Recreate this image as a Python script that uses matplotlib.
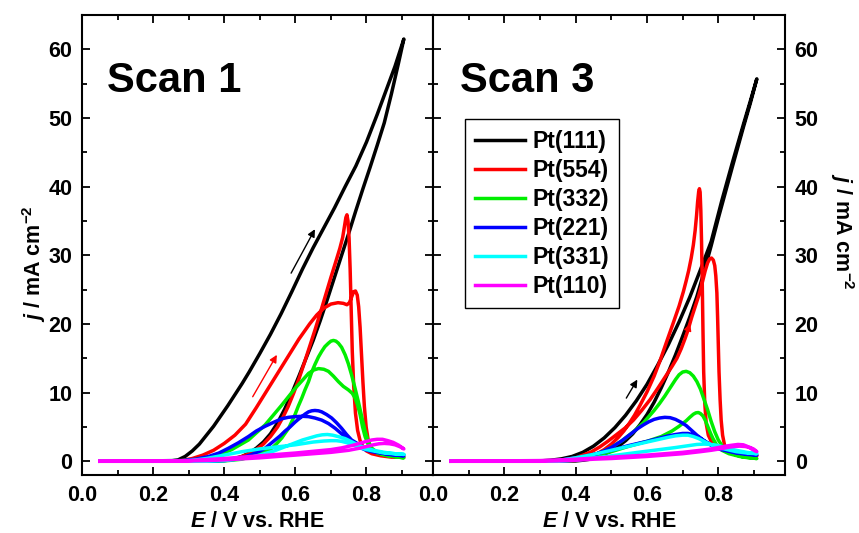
import matplotlib
matplotlib.use("Agg")
import matplotlib.pyplot as plt
from matplotlib.ticker import MultipleLocator, FixedLocator

plt.rcParams['font.family'] = ['Liberation Sans', 'DejaVu Sans']
plt.rcParams['font.weight'] = 'bold'
plt.rcParams['mathtext.fontset'] = 'custom'
plt.rcParams['mathtext.rm'] = 'Liberation Sans:bold'
plt.rcParams['mathtext.bf'] = 'Liberation Sans:bold'
plt.rcParams['mathtext.it'] = 'Liberation Sans:bold:italic'

labels = ['Pt(111)', 'Pt(554)', 'Pt(332)', 'Pt(221)', 'Pt(331)', 'Pt(110)']
colors = ['#000000', '#ff0000', '#00ee00', '#0000ff', '#00ffff', '#ff00ff']

# ---- Scan 1 : each list runs forward sweep then backward sweep ----
s1_111_E = [0.05, 0.20, 0.25, 0.27, 0.29, 0.31, 0.33, 0.35, 0.37, 0.39, 0.41, 0.43, 0.45, 0.47, 0.50, 0.53,
            0.56, 0.59, 0.62, 0.65, 0.68, 0.71, 0.74, 0.77, 0.80, 0.83, 0.86, 0.88, 0.905,
            0.89, 0.87, 0.85, 0.83, 0.81, 0.79, 0.77, 0.75, 0.73, 0.71, 0.69, 0.67, 0.65, 0.63, 0.61,
            0.59, 0.57, 0.55, 0.53, 0.51, 0.49, 0.47, 0.45, 0.42, 0.38, 0.32, 0.05]
s1_111_j = [0, 0, 0.05, 0.2, 0.7, 1.5, 2.5, 3.8, 5.1, 6.6, 8.1, 9.7, 11.3, 13.0, 15.7, 18.5,
            21.5, 24.7, 28.0, 31.1, 34.0, 36.9, 40.0, 43.0, 46.5, 50.5, 54.7, 57.5, 61.5,
            58.0, 53.5, 49.3, 46.0, 42.8, 39.7, 36.5, 33.2, 30.0, 26.8, 23.6, 20.5, 17.6, 15.0, 12.4,
            9.9, 7.6, 5.6, 4.0, 2.8, 1.9, 1.2, 0.7, 0.3, 0.1, 0, 0]

s1_554_E = [0.05, 0.25, 0.28, 0.31, 0.34, 0.37, 0.40, 0.43, 0.46, 0.49, 0.52, 0.55, 0.58, 0.61, 0.64,
            0.66, 0.68, 0.70, 0.72, 0.735, 0.745, 0.752, 0.758, 0.764, 0.769, 0.774, 0.778, 0.782,
            0.786, 0.790, 0.794, 0.799, 0.805, 0.812, 0.825, 0.85, 0.88, 0.905,
            0.87, 0.84, 0.815, 0.80, 0.79, 0.782, 0.775, 0.769, 0.764, 0.760, 0.757, 0.754, 0.751,
            0.748, 0.745, 0.742, 0.738, 0.733, 0.725, 0.715, 0.70, 0.685, 0.67, 0.655, 0.64, 0.625,
            0.61, 0.595, 0.58, 0.565, 0.55, 0.53, 0.51, 0.49, 0.47, 0.44, 0.40, 0.35, 0.30, 0.05]
s1_554_j = [0, 0, 0.1, 0.4, 0.9, 1.6, 2.6, 3.8, 5.4, 7.8, 10.3, 12.8, 15.3, 17.8, 20.0,
            21.3, 22.3, 22.9, 23.1, 23.0, 22.8, 23.1, 23.9, 24.7, 24.8, 24.2, 22.5, 19.5,
            15.5, 11.5, 8.0, 5.0, 3.0, 1.9, 1.2, 0.9, 0.7, 0.6,
            0.6, 0.8, 1.1, 1.5, 2.1, 3.0, 4.5, 7.0, 11.0, 16.0, 22.0, 28.0, 32.5,
            35.0, 35.9, 35.5, 34.2, 32.6, 31.0, 29.3, 26.8, 24.2, 21.6, 19.1, 16.7, 14.3,
            12.0, 9.9, 8.0, 6.4, 5.0, 3.6, 2.5, 1.7, 1.1, 0.5, 0.2, 0.05, 0, 0]

s1_332_E = [0.05, 0.28, 0.33, 0.375, 0.421, 0.468, 0.515, 0.562, 0.599, 0.62, 0.637, 0.652, 0.665, 0.68,
            0.693, 0.707, 0.721, 0.735, 0.749, 0.76, 0.768, 0.776, 0.782, 0.789, 0.796, 0.805, 0.815,
            0.83, 0.85, 0.905,
            0.86, 0.83, 0.815, 0.805, 0.796, 0.787, 0.777, 0.767, 0.758, 0.749, 0.740, 0.730, 0.721,
            0.714, 0.707, 0.700, 0.693, 0.683, 0.674, 0.665, 0.655, 0.646, 0.637, 0.627, 0.618, 0.608,
            0.599, 0.59, 0.581, 0.57, 0.562, 0.548, 0.534, 0.515, 0.496, 0.47, 0.449, 0.40, 0.38, 0.05]
s1_332_j = [0, 0.1, 0.3, 0.7, 1.7, 3.1, 5.3, 8.2, 10.6, 11.8, 12.8, 13.3, 13.5, 13.4,
            13.1, 12.4, 11.6, 10.9, 10.4, 9.9, 9.2, 8.0, 6.8, 5.0, 3.6, 2.4, 1.7,
            1.2, 0.9, 0.5,
            0.8, 1.3, 1.9, 2.9, 4.4, 6.4, 8.7, 10.8, 12.6, 14.2, 15.5, 16.6, 17.2,
            17.5, 17.6, 17.5, 17.2, 16.7, 16.0, 15.2, 14.1, 13.0, 11.6, 10.4, 9.2, 8.0,
            6.8, 5.8, 4.8, 4.0, 3.4, 2.6, 1.9, 1.4, 1.0, 0.6, 0.3, 0.05, 0, 0]

s1_221_E = [0.05, 0.28, 0.32, 0.356, 0.385, 0.412, 0.44, 0.468, 0.49, 0.515, 0.54, 0.562, 0.58, 0.599,
            0.62, 0.637, 0.655, 0.674, 0.693, 0.712, 0.73, 0.749, 0.763, 0.777, 0.795, 0.815, 0.84,
            0.861, 0.905,
            0.87, 0.843, 0.82, 0.796, 0.777, 0.758, 0.744, 0.730, 0.716, 0.702, 0.688, 0.674, 0.665,
            0.655, 0.646, 0.637, 0.628, 0.618, 0.608, 0.599, 0.585, 0.571, 0.557, 0.543, 0.529, 0.515,
            0.497, 0.478, 0.455, 0.431, 0.40, 0.36, 0.05]
s1_221_j = [0, 0.1, 0.3, 0.7, 1.2, 1.9, 2.7, 3.6, 4.4, 5.1, 5.7, 6.2, 6.4, 6.5,
            6.55, 6.5, 6.3, 6.0, 5.5, 4.8, 4.0, 3.1, 2.6, 2.1, 1.7, 1.4, 1.2,
            1.0, 0.8,
            1.0, 1.2, 1.5, 1.9, 2.5, 3.1, 3.9, 4.8, 5.6, 6.3, 6.8, 7.2, 7.35,
            7.4, 7.35, 7.2, 6.9, 6.5, 6.1, 5.7, 5.0, 4.4, 3.7, 3.1, 2.5, 1.9,
            1.4, 1.0, 0.6, 0.3, 0.1, 0, 0]

s1_331_E = [0.05, 0.28, 0.32, 0.35, 0.40, 0.45, 0.50, 0.55, 0.60, 0.65, 0.68, 0.70, 0.715, 0.73, 0.745,
            0.76, 0.78, 0.80, 0.83, 0.85, 0.88, 0.905,
            0.88, 0.85, 0.82, 0.80, 0.78, 0.76, 0.74, 0.72, 0.705, 0.69, 0.675, 0.66, 0.64, 0.62,
            0.60, 0.58, 0.56, 0.54, 0.52, 0.50, 0.475, 0.45, 0.42, 0.40, 0.35, 0.05]
s1_331_j = [0, 0, 0.2, 0.4, 0.9, 1.4, 1.8, 2.1, 2.4, 2.8, 2.95, 3.0, 3.0, 2.9, 2.7,
            2.4, 2.0, 1.7, 1.4, 1.2, 1.1, 1.0,
            1.1, 1.3, 1.6, 1.9, 2.3, 2.8, 3.3, 3.6, 3.8, 3.9, 3.85, 3.7, 3.4, 3.1,
            2.7, 2.3, 1.9, 1.5, 1.2, 0.9, 0.6, 0.4, 0.2, 0.1, 0, 0]

s1_110_E = [0.05, 0.25, 0.30, 0.35, 0.40, 0.45, 0.50, 0.55, 0.60, 0.65, 0.70, 0.73, 0.76, 0.78, 0.80,
            0.815, 0.83, 0.845, 0.86, 0.875, 0.89, 0.905,
            0.895, 0.88, 0.865, 0.85, 0.835, 0.82, 0.80, 0.78, 0.75, 0.70, 0.65, 0.60, 0.55, 0.50,
            0.45, 0.40, 0.35, 0.30, 0.05]
s1_110_j = [0, 0, 0.1, 0.25, 0.4, 0.6, 0.8, 1.0, 1.2, 1.45, 1.7, 1.95, 2.3, 2.6, 2.9,
            3.1, 3.2, 3.2, 3.0, 2.75, 2.35, 1.8,
            2.1, 2.4, 2.55, 2.6, 2.55, 2.4, 2.15, 1.9, 1.6, 1.3, 1.1, 0.9, 0.7, 0.5,
            0.35, 0.2, 0.1, 0.05, 0]

# ---- Scan 3 ----
s3_111_E = [0.05, 0.25, 0.30, 0.33, 0.36, 0.39, 0.42, 0.45, 0.48, 0.51, 0.54, 0.57, 0.60, 0.63, 0.66,
            0.69, 0.72, 0.75, 0.78, 0.81, 0.84, 0.87, 0.89, 0.908,
            0.89, 0.87, 0.84, 0.82, 0.80, 0.78, 0.76, 0.74, 0.72, 0.70, 0.68, 0.66, 0.64, 0.62, 0.60,
            0.58, 0.56, 0.54, 0.52, 0.50, 0.48, 0.46, 0.44, 0.42, 0.40, 0.30, 0.05]
s3_111_j = [0, 0, 0.05, 0.15, 0.35, 0.7, 1.3, 2.2, 3.4, 4.9, 6.7, 8.8, 11.2, 14.0, 17.0,
            20.3, 23.9, 27.9, 32.0, 38.0, 43.6, 49.0, 52.5, 55.7,
            52.2, 48.6, 43.0, 39.2, 35.4, 31.4, 27.6, 24.0, 21.0, 18.2, 15.5, 13.0, 10.7, 8.6, 6.8,
            5.3, 4.0, 3.0, 2.2, 1.5, 1.0, 0.6, 0.3, 0.15, 0.05, 0, 0]

s3_554_E = [0.05, 0.30, 0.34, 0.375, 0.40, 0.421, 0.445, 0.468, 0.49, 0.515, 0.54, 0.562, 0.585, 0.609,
            0.63, 0.655, 0.67, 0.684, 0.696, 0.707, 0.715, 0.725, 0.735, 0.745, 0.755, 0.763, 0.770,
            0.776, 0.781, 0.786, 0.790, 0.793, 0.796, 0.798, 0.800, 0.802, 0.805, 0.808, 0.812, 0.818,
            0.826, 0.84, 0.87, 0.908,
            0.88, 0.85, 0.83, 0.81, 0.795, 0.782, 0.772, 0.766, 0.762, 0.759, 0.757, 0.755, 0.753,
            0.751, 0.749, 0.747, 0.745, 0.742, 0.739, 0.735, 0.73, 0.724, 0.717, 0.71, 0.702, 0.69,
            0.674, 0.655, 0.637, 0.62, 0.60, 0.581, 0.565, 0.55, 0.535, 0.52, 0.50, 0.48, 0.46, 0.44,
            0.42, 0.40, 0.36, 0.30, 0.05]
s3_554_j = [0, 0, 0.05, 0.2, 0.5, 0.9, 1.4, 2.1, 2.9, 3.9, 4.9, 6.0, 7.4, 9.0,
            10.6, 12.6, 13.8, 15.0, 16.4, 17.9, 19.1, 20.9, 22.5, 24.1, 26.0, 27.7, 28.9,
            29.5, 29.6, 29.3, 28.5, 27.0, 24.5, 21.0, 17.0, 13.0, 9.0, 6.0, 3.8, 2.2,
            1.4, 1.1, 0.9, 0.8,
            0.85, 1.0, 1.3, 1.7, 2.1, 2.7, 3.8, 5.5, 8.5, 13.0, 19.0, 26.0, 32.0,
            36.5, 39.2, 39.7, 39.3, 37.8, 35.8, 33.6, 31.5, 29.6, 27.8, 26.3, 24.7, 22.6,
            20.2, 17.4, 14.7, 12.4, 10.1, 8.2, 6.7, 5.5, 4.4, 3.5, 2.5, 1.7, 1.1, 0.7,
            0.35, 0.15, 0.05, 0, 0]

s3_332_E = [0.05, 0.32, 0.35, 0.40, 0.45, 0.50, 0.55, 0.60, 0.64, 0.67, 0.69, 0.71, 0.72, 0.73, 0.737,
            0.744, 0.75, 0.757, 0.764, 0.771, 0.778, 0.785, 0.795, 0.81, 0.83, 0.86, 0.908,
            0.87, 0.84, 0.825, 0.81, 0.80, 0.79, 0.78, 0.77, 0.76, 0.75, 0.74, 0.73, 0.72, 0.71,
            0.70, 0.69, 0.68, 0.67, 0.66, 0.65, 0.635, 0.62, 0.605, 0.59, 0.575, 0.56, 0.545, 0.53,
            0.515, 0.50, 0.48, 0.46, 0.44, 0.42, 0.40, 0.38, 0.35, 0.05]
s3_332_j = [0, 0.05, 0.1, 0.4, 0.8, 1.4, 2.2, 2.9, 3.6, 4.4, 5.1, 5.9, 6.4, 6.85, 7.05,
            7.1, 6.95, 6.6, 5.9, 5.0, 4.1, 3.3, 2.4, 1.6, 1.1, 0.7, 0.4,
            0.6, 1.1, 1.6, 2.3, 3.1, 4.3, 5.8, 7.5, 9.0, 10.5, 11.6, 12.4, 12.9, 13.1,
            13.0, 12.6, 11.9, 11.1, 10.3, 9.5, 8.4, 7.4, 6.5, 5.6, 4.9, 4.2, 3.6, 3.0,
            2.5, 2.0, 1.5, 1.1, 0.7, 0.4, 0.2, 0.1, 0, 0]

s3_221_E = [0.05, 0.32, 0.35, 0.40, 0.45, 0.50, 0.55, 0.60, 0.63, 0.66, 0.68, 0.70, 0.715, 0.73, 0.745,
            0.76, 0.78, 0.80, 0.825, 0.85, 0.88, 0.908,
            0.88, 0.85, 0.825, 0.80, 0.785, 0.77, 0.755, 0.74, 0.725, 0.71, 0.695, 0.68, 0.665, 0.65,
            0.635, 0.62, 0.605, 0.59, 0.575, 0.56, 0.545, 0.53, 0.515, 0.50, 0.48, 0.46, 0.44, 0.42,
            0.40, 0.38, 0.35, 0.05]
s3_221_j = [0, 0.05, 0.1, 0.5, 1.0, 1.6, 2.3, 2.9, 3.3, 3.7, 3.9, 4.05, 4.05, 3.85, 3.5,
            3.0, 2.4, 2.0, 1.6, 1.3, 1.1, 0.9,
            1.0, 1.2, 1.5, 1.8, 2.2, 2.6, 3.2, 3.8, 4.5, 5.2, 5.7, 6.1, 6.35, 6.4,
            6.3, 6.1, 5.75, 5.3, 4.8, 4.2, 3.6, 3.0, 2.5, 2.0, 1.5, 1.1, 0.7, 0.4,
            0.2, 0.1, 0, 0]

s3_331_E = [0.05, 0.32, 0.35, 0.40, 0.45, 0.50, 0.55, 0.60, 0.63, 0.66, 0.68, 0.70, 0.715, 0.73, 0.745,
            0.76, 0.78, 0.80, 0.825, 0.85, 0.88, 0.908,
            0.88, 0.85, 0.82, 0.80, 0.78, 0.76, 0.74, 0.72, 0.70, 0.68, 0.65, 0.62, 0.59, 0.56, 0.53,
            0.50, 0.47, 0.44, 0.41, 0.38, 0.35, 0.05]
s3_331_j = [0, 0.05, 0.1, 0.5, 1.0, 1.6, 2.2, 2.8, 3.15, 3.5, 3.7, 3.8, 3.8, 3.6, 3.3,
            2.9, 2.4, 2.0, 1.7, 1.4, 1.2, 1.1,
            1.3, 1.6, 2.0, 2.3, 2.45, 2.5, 2.45, 2.3, 2.15, 2.0, 1.8, 1.6, 1.4, 1.2, 1.0,
            0.8, 0.6, 0.4, 0.2, 0.1, 0, 0]

s3_110_E = [0.05, 0.30, 0.35, 0.40, 0.45, 0.50, 0.55, 0.60, 0.65, 0.70, 0.75, 0.78, 0.80, 0.82, 0.84,
            0.855, 0.87, 0.88, 0.89, 0.90, 0.908,
            0.90, 0.89, 0.875, 0.86, 0.845, 0.83, 0.81, 0.78, 0.75, 0.70, 0.65, 0.60, 0.55, 0.50,
            0.45, 0.40, 0.35, 0.30, 0.05]
s3_110_j = [0, 0.1, 0.2, 0.3, 0.45, 0.6, 0.75, 0.9, 1.1, 1.3, 1.6, 1.8, 2.0, 2.2, 2.35,
            2.45, 2.4, 2.2, 1.9, 1.6, 1.4,
            1.75, 2.0, 2.15, 2.2, 2.15, 2.05, 1.85, 1.6, 1.4, 1.1, 0.9, 0.7, 0.55, 0.4,
            0.3, 0.15, 0.05, 0, 0]

scan1 = [(s1_111_E, s1_111_j), (s1_554_E, s1_554_j), (s1_332_E, s1_332_j),
         (s1_221_E, s1_221_j), (s1_331_E, s1_331_j), (s1_110_E, s1_110_j)]
scan3 = [(s3_111_E, s3_111_j), (s3_554_E, s3_554_j), (s3_332_E, s3_332_j),
         (s3_221_E, s3_221_j), (s3_331_E, s3_331_j), (s3_110_E, s3_110_j)]

# sweep-direction arrows (tail, head) in data units
s1_arrows = [((0.588, 27.4), (0.655, 33.8), 'black'), ((0.480, 9.4), (0.548, 15.5), 'red')]
s3_arrows = [((0.542, 9.2), (0.573, 11.9), 'black'), ((0.701, 17.0), (0.721, 20.1), 'red')]

fig = plt.figure(figsize=(8.59, 5.33), dpi=100)
ax1 = fig.add_axes([82 / 859, 58 / 533, 351 / 859, 460 / 533])
ax2 = fig.add_axes([433 / 859, 58 / 533, 352 / 859, 460 / 533])

for ax, curves, arrows, title, tx in [(ax1, scan1, s1_arrows, 'Scan 1', 0.07),
                                      (ax2, scan3, s3_arrows, 'Scan 3', 0.076)]:
    for (E, j), c, lab in zip(curves, colors, labels):
        ax.plot(E, j, color=c, lw=2.5, label=lab, solid_joinstyle='round')
    for tail, head, c in arrows:
        ax.annotate('', xy=head, xytext=tail,
                    arrowprops=dict(arrowstyle='-|>', color=c, lw=1.0, mutation_scale=11,
                                    shrinkA=0, shrinkB=0))
    ax.set_xlim(0, 0.987)
    ax.set_ylim(-2, 65)
    ax.xaxis.set_major_locator(FixedLocator([0, 0.2, 0.4, 0.6, 0.8]))
    ax.xaxis.set_minor_locator(FixedLocator([0.1, 0.3, 0.5, 0.7, 0.9]))
    ax.set_xticklabels(['0.0', '0.2', '0.4', '0.6', '0.8'])
    ax.yaxis.set_major_locator(MultipleLocator(10))
    ax.yaxis.set_minor_locator(MultipleLocator(5))
    ax.tick_params(which='both', direction='in', top=True, right=True, left=True, bottom=True,
                   width=1.3, labelsize=15.5, pad=7)
    ax.tick_params(which='major', length=6)
    ax.tick_params(which='minor', length=3.5)
    for sp in ax.spines.values():
        sp.set_linewidth(1.5)
    ax.set_xlabel('$E$ / V vs. RHE', fontsize=15.5, fontweight='bold', labelpad=4)
    ax.text(tx, 0.832, title, transform=ax.transAxes,
            fontsize=30, fontweight='bold', va='baseline', ha='left')

ax1.set_ylabel('$j$ / mA cm$^{-2}$', fontsize=15.5, fontweight='bold')
ax1.yaxis.set_label_coords(-0.097, 0.46)

ax2.yaxis.tick_right()
ax2.tick_params(which='both', left=True, right=True)
ax2.yaxis.set_label_position('right')
ax2.set_ylabel('$j$ / mA cm$^{-2}$', fontsize=15.5, fontweight='bold', rotation=270)
ax2.yaxis.set_label_coords(1.20, 0.53)

leg = ax2.legend(loc='upper left', bbox_to_anchor=(0.0896, 0.773), borderaxespad=0,
                 fontsize=16.5, handlelength=2.2, handletextpad=0.3, labelspacing=0.26,
                 borderpad=0.45, fancybox=False, framealpha=1, edgecolor='black')
leg.get_frame().set_linewidth(1.0)

fig.savefig('out.png', dpi=100)
